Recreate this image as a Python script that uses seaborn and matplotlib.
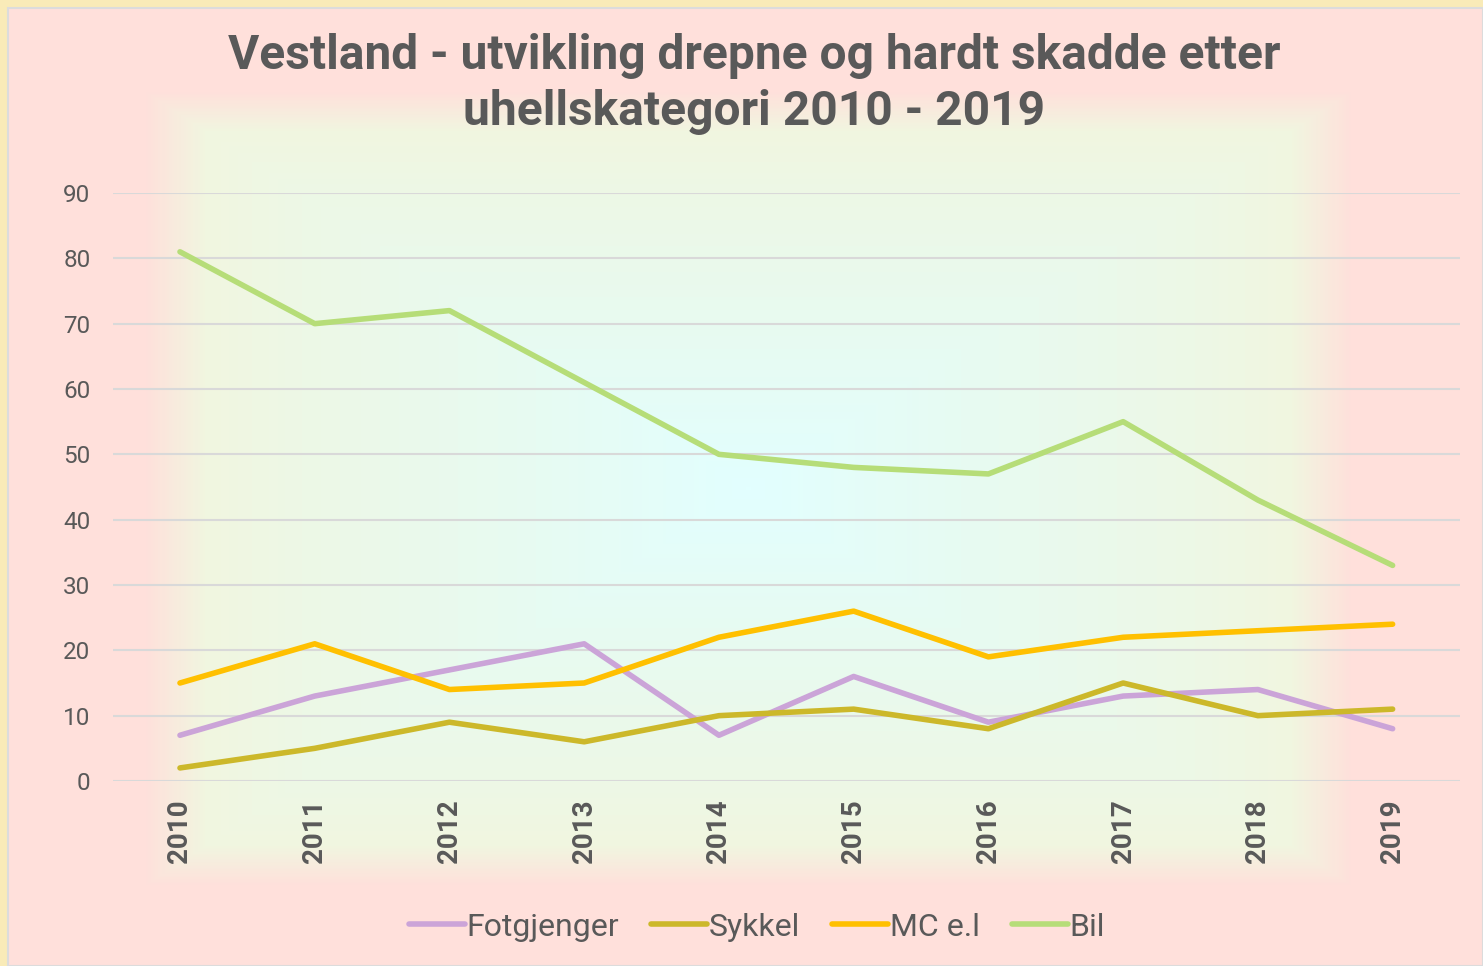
import numpy as np
import pandas as pd
import matplotlib
matplotlib.use("Agg")
import matplotlib.pyplot as plt
import seaborn as sns
from matplotlib.colors import LinearSegmentedColormap, to_rgb
from matplotlib.patches import Rectangle

# Data
years = [2010, 2011, 2012, 2013, 2014, 2015, 2016, 2017, 2018, 2019]
fotgjenger = [7, 13, 17, 21, 7, 16, 9, 13, 14, 8]
sykkel = [2, 5, 9, 6, 10, 11, 8, 15, 10, 11]
mc = [15, 21, 14, 15, 22, 26, 19, 22, 23, 24]
bil = [81, 70, 72, 61, 50, 48, 47, 55, 43, 33]
series_names = ["Fotgjenger", "Sykkel", "MC e.l", "Bil"]
colors = ["#CBA4D8", "#CCB82A", "#FFC000", "#B6DD78"]

df = pd.DataFrame({
    "År": years * 4,
    "Antall": fotgjenger + sykkel + mc + bil,
    "Kategori": np.repeat(series_names, len(years)),
})

sns.set_theme(style="white")
plt.rcParams["font.family"] = ["Roboto", "DejaVu Sans"]
grey = "#595959"

W, H = 1483, 966
fig = plt.figure(figsize=(W / 100, H / 100), dpi=100)
fig.patch.set_facecolor("#F9EBB8")

# background: pink panel with a rectangular (path) gradient behind the plot
bg = fig.add_axes([0, 0, 1, 1], zorder=0)
bg.set_xlim(0, W)
bg.set_ylim(H, 0)
bg.axis("off")
bg.add_patch(Rectangle((8, 8), W - 8, H - 8, facecolor="#FFE0DB",
                       edgecolor="#DCDCDC", lw=1.5))
yy, xx = np.mgrid[0:H, 0:W]
cx, cy, hw, hh = 748, 488, 605, 398
t = np.maximum(np.abs(xx - cx) / hw, np.abs(yy - cy) / hh)
grad = LinearSegmentedColormap.from_list("g", [
    (0.0, to_rgb("#E2FFFF")), (0.35, to_rgb("#E7FBF2")), (0.74, to_rgb("#EDF8E6")),
    (0.9, to_rgb("#F1F6E0")), (1.0, to_rgb("#FFE0DB"))])
img = grad(np.clip(t, 0, 1))
img[..., 3] = np.where(t <= 1, 1.0, 0.0)
img[:10, :, 3] = 0
img[:, :10, 3] = 0
bg.imshow(img, extent=(0, W, H, 0), aspect="auto", zorder=1)

ax = fig.add_axes([112.6 / W, 185 / H, (1460 - 112.6) / W, (781 - 193) / H], zorder=1)
ax.set_facecolor("none")
sns.lineplot(data=df, x="År", y="Antall", hue="Kategori", palette=colors,
             linewidth=4, ax=ax, legend=False, solid_capstyle="round")
ax.set_xlim(2009.5, 2019.5)
ax.set_ylim(0, 90)
ax.set_yticks(range(0, 91, 10))
ax.set_xticks(years)
ax.set_xticklabels([str(y) for y in years], rotation=90, fontsize=20,
                   fontweight="bold", color=grey)
ax.tick_params(axis="y", labelsize=17.5, labelcolor=grey, length=0, pad=16)
ax.tick_params(axis="x", length=0, pad=13)
ax.grid(axis="y", color="#D9D9D9", linewidth=1.5)
ax.set_axisbelow(True)
for s in ax.spines.values():
    s.set_visible(False)
ax.set_xlabel("")
ax.set_ylabel("")

fig.text(754 / W, 1 - 84 / H,
         "Vestland - utvikling drepne og hardt skadde etter\nuhellskategori 2010 - 2019",
         ha="center", va="center", fontsize=34.5, fontweight="bold", color=grey,
         linespacing=1.3)

handles = [plt.Line2D([0], [0], color=c, lw=4, solid_capstyle="round") for c in colors]
fig.legend(handles, series_names, loc="center", bbox_to_anchor=(757 / W, 1 - 927 / H),
           ncol=4, frameon=False, fontsize=23, handlelength=1.75, handletextpad=0.05,
           columnspacing=1.0, labelcolor=grey)

fig.savefig("out.png", dpi=100, facecolor=fig.get_facecolor())
